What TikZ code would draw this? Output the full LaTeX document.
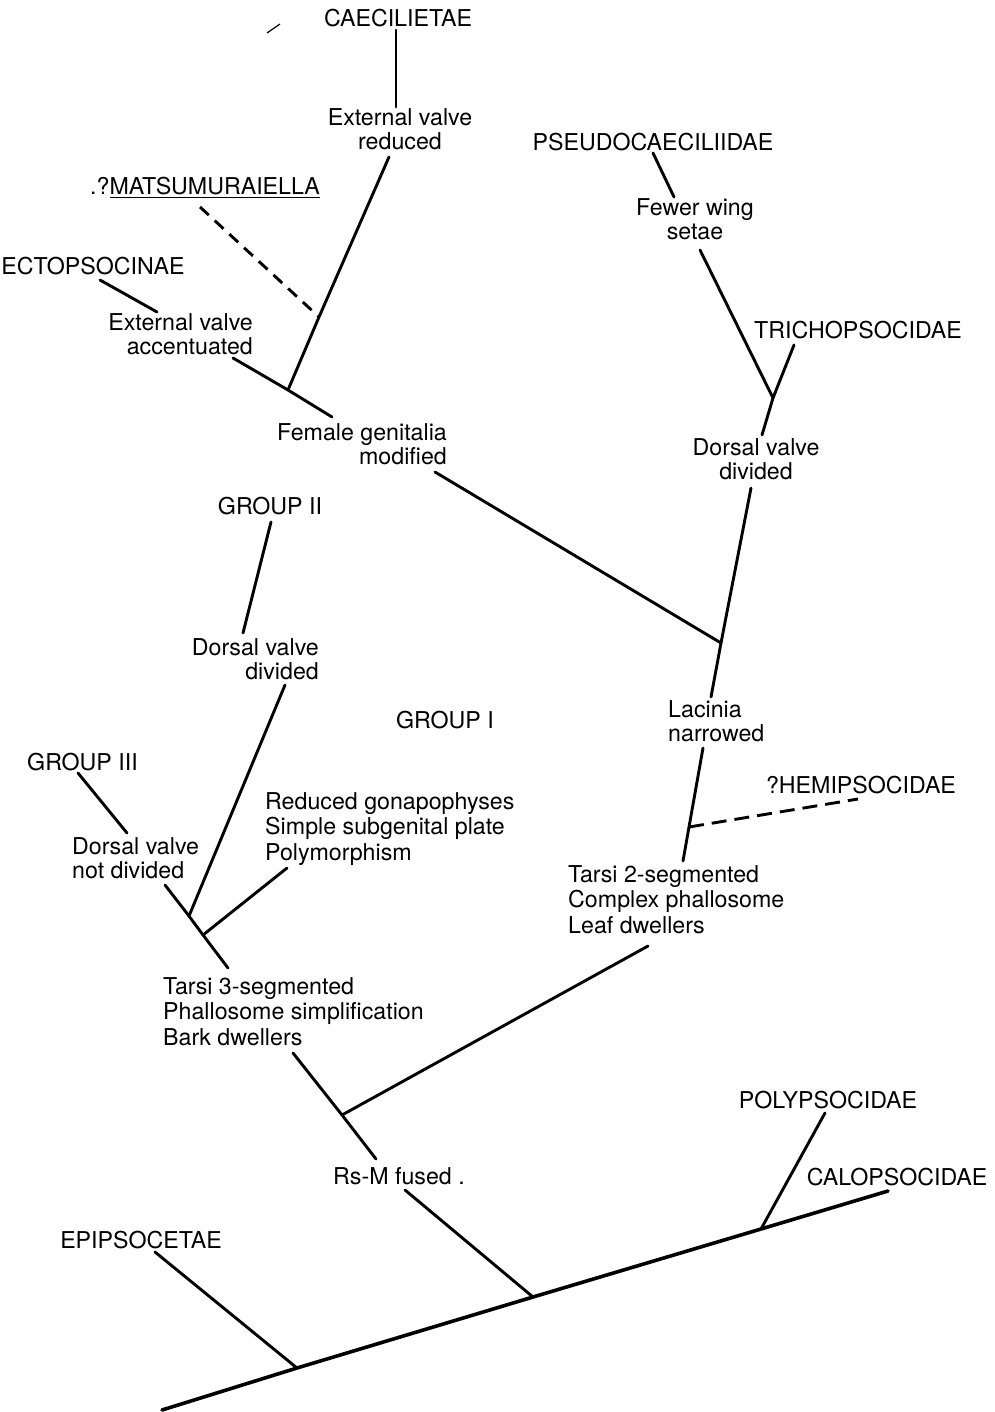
\documentclass[tikz,border=0pt]{standalone}
\usepackage{fontspec}
\setmainfont{TeX Gyre Heros}
\begin{document}
\begin{tikzpicture}[x=1pt,y=-1pt,
  lbl/.style={inner sep=0pt,font=\fontsize{23.2}{24}\selectfont},
  lbl3/.style={inner sep=0pt,font=\fontsize{23.2}{25.5}\selectfont},
  br/.style={line width=2.9pt,line cap=round},
  base/.style={line width=3.6pt,line cap=round},
  dsh/.style={line width=2.9pt,dash pattern=on 12pt off 8pt},
  hsh/.style={line width=2.9pt,dash pattern=on 15pt off 8pt}]
\useasboundingbox (0,0) rectangle (994,1412);
% ---- labels (multi-line nodes: base = baseline of last line)
\node[lbl,anchor=base] (caec) at (398,26.5) {CAECILIETAE};
\node[lbl,anchor=base,align=center] (extred) at (400,150) {External valve\\reduced};
\node[lbl,anchor=base] (matsu) at (205,195) {.?\underline{MATSUMURAIELLA}};
\node[lbl,anchor=base] (ecto) at (93,275) {ECTOPSOCINAE};
\node[lbl,anchor=base east,align=right] (extacc) at (253,354) {External valve\\accentuated};
\node[lbl,anchor=base east,align=right] (female) at (447,464) {Female genitalia\\modified};
\node[lbl,anchor=base] (pseudo) at (653,150.5) {PSEUDOCAECILIIDAE};
\node[lbl,anchor=base,align=center] (fewer) at (695,240) {Fewer wing\\setae};
\node[lbl,anchor=base] (tricho) at (858,338.5) {TRICHOPSOCIDAE};
\node[lbl,anchor=base,align=center] (dorsR) at (756,479) {Dorsal valve\\divided};
\node[lbl,anchor=base] (grp2) at (270,514.5) {GROUP II};
\node[lbl,anchor=base east,align=right] (dorsM) at (319,679) {Dorsal valve\\divided};
\node[lbl,anchor=base] (grp1) at (445,728.5) {GROUP I};
\node[lbl,anchor=base west,align=left] (lacinia) at (668,741) {Lacinia\\narrowed};
\node[lbl,anchor=base west] (grp3) at (27,770.5) {GROUP III};
\node[lbl,anchor=base west,align=left] (dorsNot) at (72,878) {Dorsal valve\\not divided};
\node[lbl3,anchor=base west,align=left] (reduced) at (265,860) {Reduced gonapophyses\\Simple subgenital plate\\Polymorphism};
\node[lbl,anchor=base] (hemi) at (861,793.5) {?HEMIPSOCIDAE};
\node[lbl3,anchor=base west,align=left] (tarsi2) at (568,933) {Tarsi 2-segmented\\Complex phallosome\\Leaf dwellers};
\node[lbl3,anchor=base west,align=left] (tarsi3) at (163,1045) {Tarsi 3-segmented\\Phallosome simplification\\Bark dwellers};
\node[lbl,anchor=base west] (rsm) at (333,1184) {Rs-M fused .};
\node[lbl,anchor=base east] (epi) at (222,1248.5) {EPIPSOCETAE};
\node[lbl,anchor=base] (poly) at (828,1108.5) {POLYPSOCIDAE};
\node[lbl,anchor=base] (calo) at (897,1185.5) {CALOPSOCIDAE};
% ---- connector end points and junctions
\coordinate (caecB) at (396,30);
\coordinate (extredT) at (396,107);
\coordinate (extredB) at (389,157);
\coordinate (jMat) at (319,317);
\coordinate (j1) at (288,390);
\coordinate (matsuB) at (200,207);
\coordinate (ectoB) at (100,280);
\coordinate (extaccT) at (157,312);
\coordinate (extaccB) at (233,358);
\coordinate (femaleT) at (332,417);
\coordinate (femaleB) at (435,472);
\coordinate (j2) at (721,643);
\coordinate (pseudoB) at (653,153);
\coordinate (fewerT) at (674,197);
\coordinate (fewerB) at (700,250);
\coordinate (trichoB) at (794,345);
\coordinate (j3) at (773,398);
\coordinate (dorsRT) at (762,435);
\coordinate (dorsRB) at (751,488);
\coordinate (laciniaT) at (711,697);
\coordinate (laciniaB) at (703,748);
\coordinate (j4) at (689,827);
\coordinate (tarsi2T) at (683,861);
\coordinate (hemiB) at (858,799);
\coordinate (grp2B) at (271,522);
\coordinate (dorsMT) at (243,633);
\coordinate (dorsMB) at (285,685);
\coordinate (grp3B) at (78,773);
\coordinate (dorsNotT) at (127,833);
\coordinate (dorsNotB) at (165,885);
\coordinate (j5) at (189,916);
\coordinate (j6) at (203,935);
\coordinate (tarsi3T) at (228,968);
\coordinate (reducedB) at (287,868);
\coordinate (tarsi3B) at (293,1053);
\coordinate (j7) at (342,1115);
\coordinate (rsmT) at (376,1159);
\coordinate (tarsi2B) at (648,946);
\coordinate (rsmB) at (405,1190);
\coordinate (j8) at (533,1297);
\coordinate (epiB) at (155,1252);
\coordinate (j9) at (297,1368);
\coordinate (root) at (162,1410);
\coordinate (polyB) at (825,1113);
\coordinate (j10) at (761,1229);
\coordinate (tip) at (888,1191);
% ---- connectors
\draw[br] (caecB) -- (extredT);
\draw[br] (extredB) -- (jMat) -- (j1);
\draw[dsh] (matsuB) -- (jMat);
\draw[br] (ectoB) -- (extaccT);
\draw[br] (extaccB) -- (j1) -- (femaleT);
\draw[br] (femaleB) -- (j2);
\draw[br] (pseudoB) -- (fewerT);
\draw[br] (fewerB) -- (j3);
\draw[br] (trichoB) -- (j3) -- (dorsRT);
\draw[br] (dorsRB) -- (j2) -- (laciniaT);
\draw[br] (laciniaB) -- (j4) -- (tarsi2T);
\draw[hsh] (j4) -- (hemiB);
\draw[br] (grp2B) -- (dorsMT);
\draw[br] (dorsMB) -- (j5);
\draw[br] (grp3B) -- (dorsNotT);
\draw[br] (dorsNotB) -- (j5) -- (j6) -- (tarsi3T);
\draw[br] (reducedB) -- (j6);
\draw[br] (tarsi3B) -- (j7) -- (rsmT);
\draw[br] (tarsi2B) -- (j7);
\draw[br] (rsmB) -- (j8);
\draw[br] (epiB) -- (j9);
\draw[br] (polyB) -- (j10);
\draw[base] (root) -- (j9) -- (j8) -- (j10) -- (tip);
% stray mark
\coordinate (s1) at (267,33);
\coordinate (s2) at (280,24);
\draw[line width=1.2pt] (s1) -- (s2);
\end{tikzpicture}
\end{document}
